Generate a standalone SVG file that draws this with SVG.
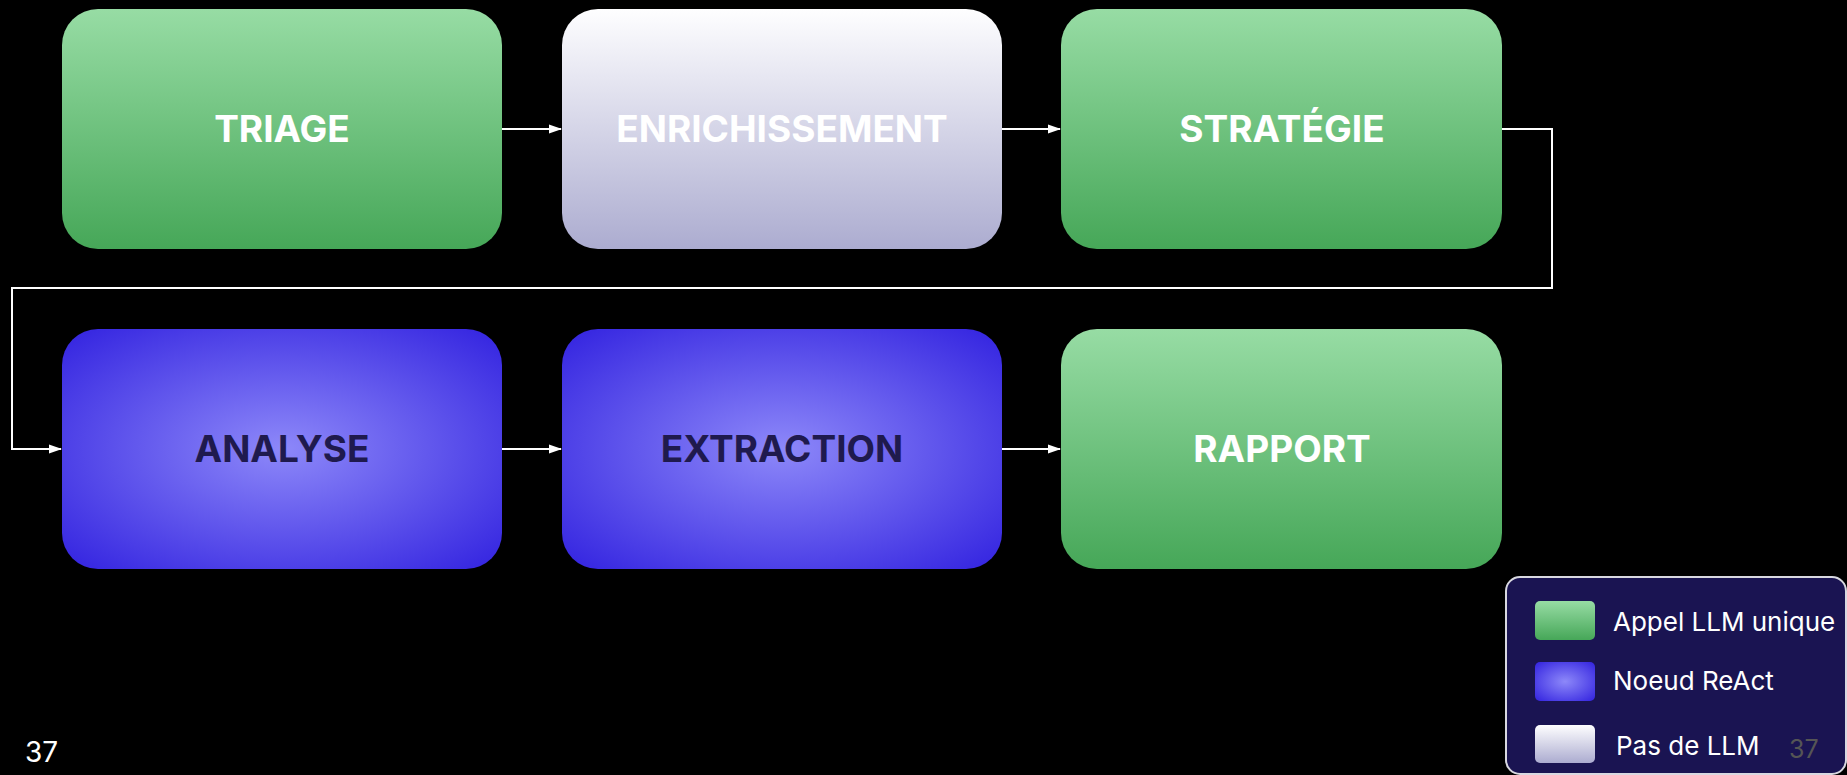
<svg xmlns="http://www.w3.org/2000/svg" width="1847" height="775" viewBox="0 0 1847 775">
<defs>
<linearGradient id="gGreen" x1="0" y1="0" x2="0" y2="1">
<stop offset="0" stop-color="#97dca4"/>
<stop offset="1" stop-color="#46a758"/>
</linearGradient>
<linearGradient id="gGrey" x1="0" y1="0" x2="0" y2="1">
<stop offset="0" stop-color="#fefeff"/>
<stop offset="1" stop-color="#acacd0"/>
</linearGradient>
<radialGradient id="gBlue" cx="0.5" cy="0.5" r="0.72">
<stop offset="0" stop-color="#8d88f9"/>
<stop offset="1" stop-color="#3020df"/>
</radialGradient>
<marker id="arr" markerWidth="13" markerHeight="10" refX="12" refY="5" orient="auto" markerUnits="userSpaceOnUse">
<path d="M0,0.5 L13,5 L0,9.5 Z" fill="#ffffff"/>
</marker>
<style>
.node{stroke:none}
.lbl{font-family:Inter,"Liberation Sans",sans-serif;font-weight:700;font-size:37px;text-anchor:middle;fill:#ffffff}
.dark{fill:#1f1a4e}
.conn{fill:none;stroke:#ffffff;stroke-width:2;marker-end:url(#arr)}
.leg{font-family:Inter,"Liberation Sans",sans-serif;font-size:26px;fill:#ffffff}
</style>
</defs>
<rect x="0" y="0" width="1847" height="775" fill="#000000"/>
<g id="connectors">
<path class="conn" d="M502,129 H561"/>
<path class="conn" d="M1002,129 H1060"/>
<path class="conn" d="M1502,129 H1552 V288 H12 V449 H61"/>
<path class="conn" d="M502,449 H561"/>
<path class="conn" d="M1002,449 H1060"/>
</g>
<g id="triage">
<rect class="node" x="62" y="9" width="440" height="240" rx="36" fill="url(#gGreen)"/>
<text class="lbl" x="282" y="142">TRIAGE</text>
</g>
<g id="enrichissement">
<rect class="node" x="562" y="9" width="440" height="240" rx="36" fill="url(#gGrey)"/>
<text class="lbl" x="782" y="142">ENRICHISSEMENT</text>
</g>
<g id="strategie">
<rect class="node" x="1061" y="9" width="441" height="240" rx="36" fill="url(#gGreen)"/>
<text class="lbl" x="1282" y="142">STRATÉGIE</text>
</g>
<g id="analyse">
<rect class="node" x="62" y="329" width="440" height="240" rx="36" fill="url(#gBlue)"/>
<text class="lbl dark" x="282" y="462">ANALYSE</text>
</g>
<g id="extraction">
<rect class="node" x="562" y="329" width="440" height="240" rx="36" fill="url(#gBlue)"/>
<text class="lbl dark" x="782" y="462">EXTRACTION</text>
</g>
<g id="rapport">
<rect class="node" x="1061" y="329" width="441" height="240" rx="36" fill="url(#gGreen)"/>
<text class="lbl" x="1282" y="462">RAPPORT</text>
</g>
<text x="25" y="762" font-family="Inter, 'Liberation Sans', sans-serif" font-size="28" fill="#ffffff">37</text>
<g id="legend">
<rect x="1506" y="577" width="340" height="197" rx="14" fill="#1a1452" stroke="#d8d8e0" stroke-width="2"/>
<rect x="1535" y="601" width="60" height="39" rx="5" fill="url(#gGreen)"/>
<rect x="1535" y="662" width="60" height="39" rx="5" fill="url(#gBlue)"/>
<rect x="1535" y="725" width="60" height="38" rx="5" fill="url(#gGrey)"/>
<text class="leg" x="1613" y="631">Appel LLM unique</text>
<text class="leg" x="1613" y="690">Noeud ReAct</text>
<text class="leg" x="1616" y="755">Pas de LLM</text>
<text x="1789" y="758" font-family="Inter, 'Liberation Sans', sans-serif" font-size="25" fill="#555555">37</text>
</g>
</svg>
